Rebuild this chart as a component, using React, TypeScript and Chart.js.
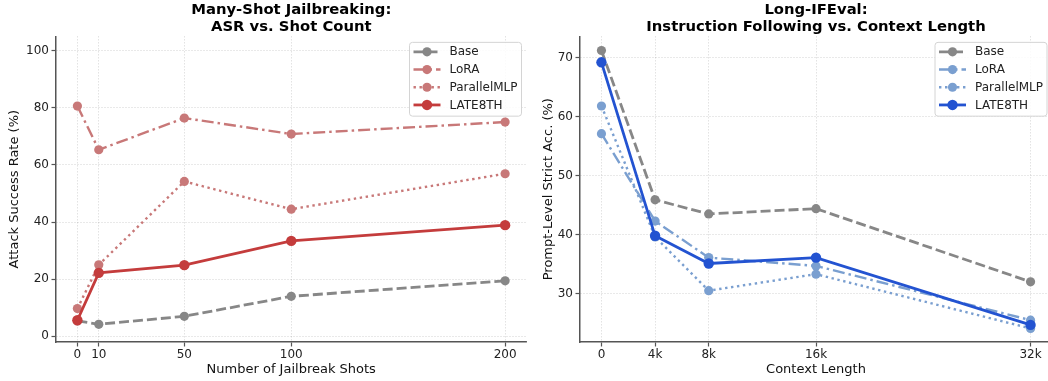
import React, { useEffect, useRef } from "react";
import { Chart, registerables } from "chart.js";

Chart.register(...registerables);

// ---------- data ----------
const shotCounts = [0, 10, 50, 100, 200];
const shotTickLabels = ["0", "10", "50", "100", "200"];
const asrBase = [5.4, 4.2, 7.0, 14.0, 19.4];
const asrLoRA = [80.6, 65.3, 76.4, 70.8, 75.0];
const asrParallel = [9.7, 25.0, 54.2, 44.5, 56.9];
const asrLate = [5.6, 22.2, 24.9, 33.4, 38.9];
const asrYTicks = [0, 20, 40, 60, 80, 100];

const contextK = [0, 4, 8, 16, 32];
const contextTickLabels = ["0", "4k", "8k", "16k", "32k"];
const ifBase = [71.2, 45.9, 43.5, 44.4, 32.0];
const ifLoRA = [57.1, 42.3, 36.1, 34.7, 25.5];
const ifParallel = [61.8, 39.6, 30.5, 33.3, 24.1];
const ifLate = [69.2, 39.8, 35.1, 36.1, 24.7];
const ifYTicks = [30, 40, 50, 60, 70];

const seriesNames = ["Base", "LoRA", "ParallelMLP", "LATE8TH"];

const FONT = "'DejaVu Sans', 'Liberation Sans', sans-serif";

const legendPlugin = {
  id: "insideLegend",
  afterDraw(chart: any) {
    const ctx = chart.ctx;
    const area = chart.chartArea;
    const ds = chart.data.datasets.slice().sort((a: any, b: any) => b.order - a.order);
    ctx.save();
    ctx.font = `12px ${FONT}`;
    let tw = 0;
    ds.forEach((d: any) => (tw = Math.max(tw, ctx.measureText(d.label).width)));
    const right = area.right - 5;
    const left = right - (tw + 44);
    const top = area.top + 6;
    const rowH = 17.7;
    const h = rowH * ds.length + 3;
    const r = 3;
    ctx.beginPath();
    ctx.moveTo(left + r, top);
    ctx.lineTo(right - r, top);
    ctx.arcTo(right, top, right, top + r, r);
    ctx.lineTo(right, top + h - r);
    ctx.arcTo(right, top + h, right - r, top + h, r);
    ctx.lineTo(left + r, top + h);
    ctx.arcTo(left, top + h, left, top + h - r, r);
    ctx.lineTo(left, top + r);
    ctx.arcTo(left, top, left + r, top, r);
    ctx.closePath();
    ctx.fillStyle = "rgba(255,255,255,0.85)";
    ctx.fill();
    ctx.strokeStyle = "#d4d4d4";
    ctx.lineWidth = 1;
    ctx.stroke();
    ds.forEach((d: any, i: number) => {
      const y = top + 9.5 + i * rowH;
      ctx.beginPath();
      ctx.setLineDash(d.borderDash || []);
      ctx.lineCap = "butt";
      ctx.strokeStyle = d.borderColor;
      ctx.lineWidth = d.borderWidth;
      ctx.moveTo(left + 4, y);
      ctx.lineTo(left + 31, y);
      ctx.stroke();
      ctx.setLineDash([]);
      ctx.beginPath();
      ctx.fillStyle = d.pointBackgroundColor;
      ctx.arc(left + 17.5, y, d.pointRadius, 0, Math.PI * 2);
      ctx.fill();
      ctx.fillStyle = "#222";
      ctx.textBaseline = "middle";
      ctx.textAlign = "left";
      ctx.fillText(d.label, left + 40, y + 0.5);
    });
    ctx.restore();
  },
};

function makeDataset(label: string, xs: number[], ys: number[], color: string, dash: number[], width: number, radius: number, order: number) {
  return {
    label,
    data: xs.map((x, i) => ({ x, y: ys[i] })),
    borderColor: color,
    backgroundColor: color,
    pointBackgroundColor: color,
    pointBorderColor: color,
    pointBorderWidth: 0,
    pointRadius: radius,
    borderWidth: width,
    borderDash: dash,
    borderCapStyle: "butt",
    tension: 0,
    fill: false,
    clip: false,
    order,
  };
}

function buildConfig(opts: any) {
  const {
    title, xs, xTicks, xLabels, xMin, xMax, yMin, yMax, yTicks, xTitle, yTitle,
    series, colors, yAxisWidth, padRight, yTitlePad,
  } = opts;
  const dashes = [[10, 4], [12, 4, 2.5, 4], [2.4, 3.6], []];
  const widths = [2.8, 2.4, 2.4, 2.8];
  const radii = [4.6, 4.6, 4.6, 5.2];
  const orders = [4, 3, 2, 1];
  return {
    type: "line",
    data: {
      datasets: series.map((ys: number[], i: number) =>
        makeDataset(seriesNames[i], xs, ys, colors[i], dashes[i], widths[i], radii[i], orders[i])
      ),
    },
    options: {
      animation: false,
      responsive: false,
      devicePixelRatio: 1,
      layout: { autoPadding: false, padding: { left: 0, right: padRight, top: 0, bottom: 0 } },
      plugins: {
        legend: { display: false },
        tooltip: { enabled: false },
        title: {
          display: true,
          text: title,
          fullSize: false,
          color: "#000",
          font: { family: FONT, size: 14.8, weight: "bold", lineHeight: 1.13 },
          padding: { top: 2, bottom: 0.9 },
        },
      },
      scales: {
        x: {
          type: "linear",
          min: xMin,
          max: xMax,
          afterBuildTicks: (s: any) => {
            s.ticks = xTicks.map((v: number) => ({ value: v }));
          },
          afterFit: (s: any) => {
            s.height = 39;
            s.paddingLeft = 0;
            s.paddingRight = 0;
          },
          ticks: {
            autoSkip: false,
            maxRotation: 0,
            padding: 1,
            color: "#222",
            font: { family: FONT, size: 12, lineHeight: 1.2 },
            callback: (v: number) => {
              const idx = xTicks.indexOf(v);
              return idx >= 0 ? xLabels[idx] : "";
            },
          },
          grid: {
            color: "rgba(0,0,0,0.22)",
            lineWidth: 0.8,
            drawTicks: true,
            tickLength: 4.5,
            tickColor: "#555",
            tickWidth: 1.2,
            tickBorderDash: [],
          },
          border: { display: true, color: "#555", width: 1.5, dash: [1, 2] },
          title: {
            display: true,
            text: xTitle,
            color: "#111",
            font: { family: FONT, size: 13, lineHeight: 1.2 },
            padding: { top: 0, bottom: 3.2 },
          },
        },
        y: {
          type: "linear",
          min: yMin,
          max: yMax,
          afterBuildTicks: (s: any) => {
            s.ticks = yTicks.map((v: number) => ({ value: v }));
          },
          afterFit: (s: any) => {
            s.width = yAxisWidth;
            s.paddingTop = 0;
            s.paddingBottom = 0;
          },
          ticks: {
            padding: 2.5,
            color: "#222",
            font: { family: FONT, size: 12, lineHeight: 1.2 },
            callback: (v: number) => String(v),
          },
          grid: {
            color: "rgba(0,0,0,0.22)",
            lineWidth: 0.8,
            drawTicks: true,
            tickLength: 4.5,
            tickColor: "#555",
            tickWidth: 1.2,
            tickBorderDash: [],
          },
          border: { display: true, color: "#555", width: 1.5, dash: [1, 2] },
          title: {
            display: true,
            text: yTitle,
            color: "#111",
            font: { family: FONT, size: 13, lineHeight: 1.2 },
            padding: { top: yTitlePad, bottom: 0 },
          },
        },
      },
    },
    plugins: [legendPlugin],
  };
}

export default function App() {
  const leftRef = useRef<HTMLCanvasElement | null>(null);
  const rightRef = useRef<HTMLCanvasElement | null>(null);

  useEffect(() => {
    Chart.defaults.font.family = FONT;
    const left = new Chart(
      leftRef.current as HTMLCanvasElement,
      buildConfig({
        title: ["Many-Shot Jailbreaking:", "ASR vs. Shot Count"],
        xs: shotCounts,
        xTicks: shotCounts,
        xLabels: shotTickLabels,
        xMin: -10,
        xMax: 210,
        yMin: -2,
        yMax: 105,
        yTicks: asrYTicks,
        xTitle: "Number of Jailbreak Shots",
        yTitle: "Attack Success Rate (%)",
        series: [asrBase, asrLoRA, asrParallel, asrLate],
        colors: ["#878787", "#c87878", "#c87878", "#c43c3c"],
        yAxisWidth: 56,
        padRight: 3.5,
        yTitlePad: 7.2,
      }) as any
    );
    const right = new Chart(
      rightRef.current as HTMLCanvasElement,
      buildConfig({
        title: ["Long-IFEval:", "Instruction Following vs. Context Length"],
        xs: contextK,
        xTicks: contextK,
        xLabels: contextTickLabels,
        xMin: -1.6,
        xMax: 33.6,
        yMin: 21.8,
        yMax: 73.6,
        yTicks: ifYTicks,
        xTitle: "Context Length",
        yTitle: "Prompt-Level Strict Acc. (%)",
        series: [ifBase, ifLoRA, ifParallel, ifLate],
        colors: ["#878787", "#7a9fd0", "#7a9fd0", "#2353d1"],
        yAxisWidth: 50,
        padRight: 1,
        yTitlePad: 10.8,
      }) as any
    );
    return () => {
      left.destroy();
      right.destroy();
    };
  }, []);

  return (
    <div
      style={{
        position: "fixed",
        left: 0,
        top: 0,
        width: 1048,
        height: 381,
        overflow: "hidden",
        background: "#fff",
      }}
    >
      <canvas
        ref={leftRef}
        width={530}
        height={381}
        style={{ position: "absolute", left: 0, top: 0, width: 530, height: 381 }}
      />
      <canvas
        ref={rightRef}
        width={523}
        height={381}
        style={{ position: "absolute", left: 530, top: 0, width: 523, height: 381 }}
      />
    </div>
  );
}
